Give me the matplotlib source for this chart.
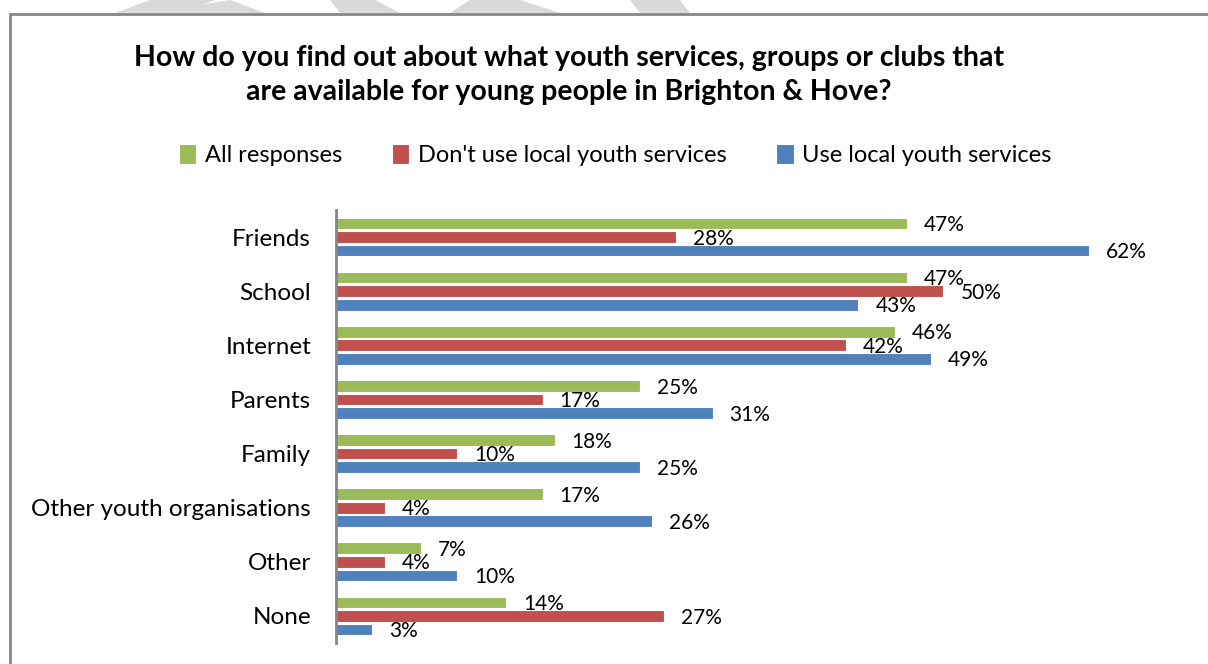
import numpy as np
import matplotlib.pyplot as plt
from matplotlib.patches import Rectangle, Polygon

plt.rcParams['font.family'] = ['Lato', 'DejaVu Sans']

categories = ["Friends", "School", "Internet", "Parents", "Family",
              "Other youth organisations", "Other", "None"]
all_resp   = [47, 47, 46, 25, 18, 17, 7, 14]
dont_use   = [28, 50, 42, 17, 10, 4, 4, 27]
use_local  = [62, 43, 49, 31, 25, 26, 10, 3]

series_names = ["All responses", "Don't use local youth services", "Use local youth services"]
colors       = ["#9BBB59", "#C0504D", "#4F81BD"]

W, H = 1208, 664
fig = plt.figure(figsize=(W / 100, H / 100), dpi=100)

# faint watermark shapes peeking above the chart frame
wm = "#d9d9d9"
for pts in [
    [(115, 13), (150, 0), (215, 0), (180, 13)],
    [(150, 13), (230, 0), (265, 13)],
    [(340, 13), (330, 0), (375, 0), (400, 13)],
    [(450, 13), (470, 0), (520, 0), (560, 13)],
    [(640, 13), (630, 0), (680, 0), (690, 13)],
]:
    fig.patches.append(Polygon([(x / W, 1 - y / H) for x, y in pts], closed=True,
                               transform=fig.transFigure, facecolor=wm,
                               edgecolor="none", zorder=0))

# chart frame
fig.patches.append(Rectangle((9.5 / W, -0.1), 1.2, 1 - 13.5 / H + 0.1,
                             transform=fig.transFigure, facecolor="white",
                             edgecolor="#868686", linewidth=2, zorder=1))

ax = fig.add_axes([336 / W, 1 - 643 / H, 854 / W, 433 / H])
ax.set_zorder(2)
ax.patch.set_alpha(0)

y = np.arange(len(categories))
pitch = 0.25
height = 0.215
for i, (vals, c) in enumerate(zip([all_resp, dont_use, use_local], colors)):
    pos = y + (i - 1) * pitch
    ax.barh(pos, vals, height=height, color=c, edgecolor="white", linewidth=0.8,
            label=series_names[i])
    for p, v in zip(pos, vals):
        ax.text(v + 1.4, p + 0.03, f"{v}%", va="center", ha="left", fontsize=15)

ax.set_ylim(len(categories) - 0.5, -0.5)
ax.set_xlim(0, 70.3)
ax.set_yticks(y)
ax.set_yticklabels(categories, fontsize=17.5)
ax.tick_params(axis="y", length=0, pad=18)
ax.set_xticks([])
for s in ["top", "right", "bottom"]:
    ax.spines[s].set_visible(False)
ax.spines["left"].set_color("#868686")
ax.spines["left"].set_linewidth(2)

fig.text(569 / W, 1 - 75 / H,
         "How do you find out about what youth services, groups or clubs that\n"
         "are available for young people in Brighton & Hove?",
         ha="center", va="center", fontsize=20.5, fontweight="bold",
         linespacing=1.4, zorder=3)

handles, labels = ax.get_legend_handles_labels()
fig.legend(handles, labels, loc="center", bbox_to_anchor=(615 / W, 1 - 155 / H),
           ncol=3, frameon=False, fontsize=17, handlelength=0.75, handleheight=0.9,
           handletextpad=0.35, columnspacing=2.1)

fig.savefig("out.png", dpi=100)
